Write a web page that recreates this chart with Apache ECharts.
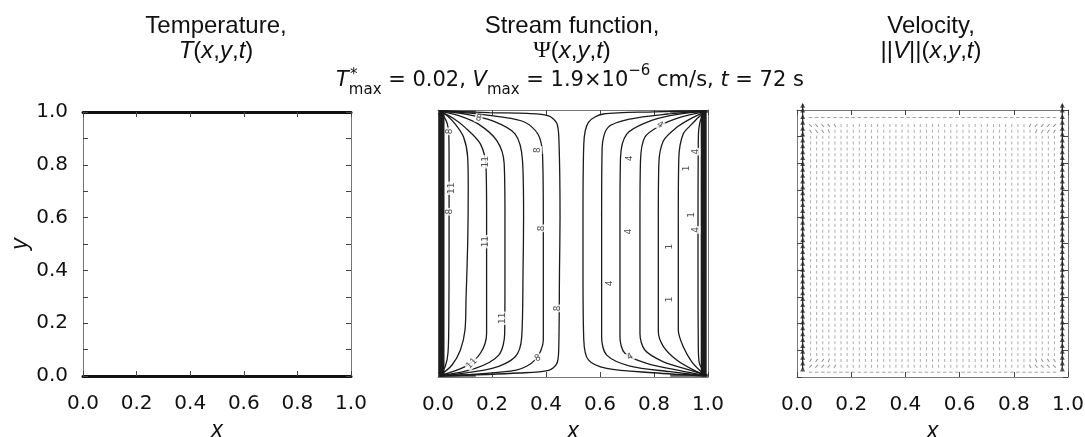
<!DOCTYPE html>
<html><head><meta charset="utf-8">
<script src="https://cdn.jsdelivr.net/npm/echarts@6/dist/echarts.min.js"></script>
<style>html,body{margin:0;padding:0;background:#fff}#c{width:1085px;height:437px}</style>
</head><body><div id="c"></div>
<script>
// ---------- DATA ----------
const tickLabels = [0.0, 0.2, 0.4, 0.6, 0.8, 1.0];

// Stream-function contours, left (clockwise) cell, innermost -> outermost [x, y]
const leftCellContours = [
  [[0.006,0.994],[0.022,0.975],[0.034,0.95],[0.04,0.91],[0.041,0.8],[0.041,0.5],[0.04,0.2],[0.037,0.09],[0.027,0.04],[0.006,0.006]],
  [[0.006,0.995],[0.033,0.979],[0.064,0.947],[0.095,0.898],[0.11,0.822],[0.112,0.7],[0.11,0.5],[0.104,0.3],[0.1,0.176],[0.083,0.101],[0.052,0.045],[0.006,0.005]],
  [[0.006,0.996],[0.052,0.972],[0.1,0.935],[0.157,0.873],[0.178,0.785],[0.18,0.6],[0.18,0.4],[0.18,0.163],[0.157,0.089],[0.1,0.039],[0.006,0.005]],
  [[0.006,0.997],[0.077,0.979],[0.15,0.947],[0.218,0.885],[0.245,0.8],[0.248,0.6],[0.248,0.4],[0.247,0.163],[0.225,0.082],[0.138,0.032],[0.006,0.004]],
  [[0.006,0.997],[0.1,0.985],[0.2,0.96],[0.286,0.91],[0.313,0.81],[0.317,0.6],[0.315,0.4],[0.31,0.15],[0.286,0.076],[0.2,0.032],[0.006,0.004]],
  [[0.006,0.998],[0.12,0.988],[0.225,0.975],[0.32,0.955],[0.37,0.91],[0.387,0.835],[0.39,0.6],[0.39,0.4],[0.39,0.138],[0.36,0.064],[0.29,0.026],[0.006,0.004]],
  [[0.006,0.998],[0.19,0.99],[0.33,0.987],[0.41,0.978],[0.44,0.95],[0.448,0.885],[0.452,0.6],[0.45,0.4],[0.447,0.1],[0.44,0.05],[0.41,0.025],[0.3,0.015],[0.006,0.003]]
];
// right (counter-clockwise) cell, innermost -> outermost
const rightCellContours = [
  [[0.994,0.994],[0.975,0.97],[0.966,0.93],[0.964,0.87],[0.963,0.6],[0.963,0.4],[0.964,0.12],[0.968,0.051],[0.985,0.02],[0.994,0.008]],
  [[0.994,0.995],[0.964,0.972],[0.94,0.947],[0.908,0.91],[0.892,0.822],[0.89,0.6],[0.89,0.4],[0.89,0.176],[0.908,0.114],[0.94,0.057],[0.975,0.02],[0.994,0.007]],
  [[0.994,0.996],[0.933,0.966],[0.884,0.935],[0.835,0.885],[0.818,0.8],[0.816,0.6],[0.816,0.4],[0.816,0.17],[0.835,0.114],[0.884,0.064],[0.951,0.024],[0.994,0.006]],
  [[0.994,0.996],[0.896,0.972],[0.822,0.941],[0.766,0.898],[0.75,0.81],[0.748,0.6],[0.748,0.4],[0.748,0.163],[0.766,0.101],[0.835,0.057],[0.933,0.026],[0.994,0.006]],
  [[0.994,0.997],[0.859,0.979],[0.773,0.954],[0.699,0.91],[0.676,0.822],[0.674,0.6],[0.674,0.4],[0.674,0.15],[0.692,0.089],[0.773,0.051],[0.896,0.024],[0.994,0.005]],
  [[0.994,0.997],[0.85,0.985],[0.711,0.966],[0.63,0.935],[0.608,0.86],[0.606,0.6],[0.606,0.4],[0.606,0.15],[0.625,0.082],[0.711,0.041],[0.859,0.02],[0.994,0.005]],
  [[0.994,0.998],[0.8,0.993],[0.612,0.985],[0.557,0.954],[0.54,0.873],[0.537,0.6],[0.537,0.4],[0.54,0.138],[0.557,0.064],[0.625,0.032],[0.797,0.016],[0.994,0.004]]
];
// dark compressed contours along the side walls
const wallBands = [
  [[0.013,0.0],[0.013,1.0]],
  [[0.984,0.0],[0.984,1.0]]
];
const cornerBands = [
  [[0.0,0.994],[0.14,0.994]], [[0.0,0.006],[0.14,0.006]],
  [[0.86,0.994],[1.0,0.994]], [[0.86,0.006],[1.0,0.006]]
];
// contour labels [x, y, text, rotation]
const psiLabels = [
  [0.15,0.969,'8',-15],[0.045,0.92,'8',90],[0.175,0.806,'11',90],[0.052,0.707,'11',90],
  [0.045,0.619,'8',90],[0.37,0.85,'8',90],[0.385,0.557,'8',90],[0.175,0.507,'11',90],
  [0.445,0.257,'8',90],[0.24,0.22,'11',90],[0.37,0.07,'8',30],[0.125,0.05,'11',45],
  [0.822,0.944,'4',-30],[0.71,0.819,'4',90],[0.955,0.844,'4',90],[0.92,0.781,'1',90],
  [0.94,0.607,'1',90],[0.955,0.551,'4',90],[0.705,0.544,'4',90],[0.857,0.488,'1',90],
  [0.637,0.351,'4',90],[0.857,0.291,'1',90],[0.711,0.076,'4',30]
];

// velocity field sample grid
const velCols = [0.05,0.0725,0.095,0.1175,0.14,0.1625,0.185,0.2075,0.23,0.2525,0.275,0.2975,0.32,0.3425,0.365,0.3875,0.41,0.4325,0.455,0.4775,0.5,0.5225,0.545,0.5675,0.59,0.6125,0.635,0.6575,0.68,0.7025,0.725,0.7475,0.77,0.7925,0.815,0.8375,0.86,0.8825,0.905,0.9275,0.95];
const velRows = [0.04,0.062,0.084,0.106,0.128,0.15,0.172,0.194,0.216,0.238,0.26,0.282,0.304,0.326,0.348,0.37,0.392,0.414,0.436,0.458,0.48,0.502,0.524,0.546,0.568,0.59,0.612,0.634,0.656,0.678,0.7,0.722,0.744,0.766,0.788,0.81,0.832,0.854,0.876,0.898,0.92,0.942];
const velEdgeRows = [0.972, 0.018];
// corner vectors [x, y, rotation deg]
const cornerVectors = [
  [0.05,0.942,45],[0.0725,0.942,45],[0.095,0.942,45],[0.1175,0.942,40],[0.14,0.942,30],
  [0.05,0.92,30],[0.0725,0.92,35],[0.095,0.92,30],[0.1175,0.92,20],
  [0.95,0.942,-45],[0.9275,0.942,-45],[0.905,0.942,-45],[0.8825,0.942,-40],[0.86,0.942,-30],
  [0.95,0.92,-30],[0.9275,0.92,-35],[0.905,0.92,-30],[0.8825,0.92,-20],
  [0.05,0.04,-45],[0.0725,0.04,-45],[0.095,0.04,-45],[0.1175,0.04,-40],[0.14,0.04,-30],
  [0.05,0.062,-30],[0.0725,0.062,-35],[0.095,0.062,-30],[0.1175,0.062,-20],
  [0.95,0.04,45],[0.9275,0.04,45],[0.905,0.04,45],[0.8825,0.04,40],[0.86,0.04,30],
  [0.95,0.062,30],[0.9275,0.062,35],[0.905,0.062,30],[0.8825,0.062,20]
];
const wallJetX = [0.021, 0.979];
const wallJetSpan = [0.03, 1.022];
const wallJetHeads = [0.03,0.052,0.074,0.096,0.118,0.14,0.162,0.184,0.206,0.228,0.25,0.272,0.294,0.316,0.338,0.36,0.382,0.404,0.426,0.448,0.47,0.492,0.514,0.536,0.558,0.58,0.602,0.624,0.646,0.668,0.69,0.712,0.734,0.756,0.778,0.8,0.822,0.844,0.866,0.888,0.91,0.932,0.954,0.976,1.0,1.018];

// ---------- CHART ----------
const FT = '"Liberation Sans", Arial, sans-serif';
const FN = '"DejaVu Sans", sans-serif';
const grids = [
  {left:83, top:112, width:268, height:264, outerBoundsMode:'none', containLabel:false},
  {left:438, top:110, width:270, height:267, outerBoundsMode:'none', containLabel:false},
  {left:797, top:110, width:271, height:267, outerBoundsMode:'none', containLabel:false}
];
function xAx(gi, pos, labels, lw, lc) {
  return {type:'value', gridIndex:gi, position:pos, min:0, max:1, interval:0.2,
    axisLine:{show:true, onZero:false, lineStyle:{color:lc, width:lw}},
    axisTick:{show:true, inside:true, length:5, lineStyle:{color:'#444', width:1}},
    splitLine:{show:false},
    axisLabel:{show:labels, margin:18, fontSize:20, lineHeight:20, fontFamily:FN, color:'#111',
      formatter:v=>v.toFixed(1), showMinLabel:true, showMaxLabel:true},
    name: labels ? 'x' : '', nameLocation:'middle', nameGap:38,
    nameTextStyle:{fontSize:23, fontStyle:'italic', fontFamily:FT, color:'#111', lineHeight:23}};
}
function yAx(gi, pos, labels, ticks, lc, named) {
  return {type:'value', gridIndex:gi, position:pos, min:0, max:1, interval:0.2,
    axisLine:{show:true, onZero:false, lineStyle:{color:lc, width:1}},
    axisTick:{show:ticks, inside:true, length:5, lineStyle:{color:'#444', width:1}},
    minorTick:{show:ticks, splitNumber:2, length:5, lineStyle:{color:'#444', width:1}},
    splitLine:{show:false},
    axisLabel:{show:labels, margin:15, fontSize:20, fontFamily:FN, color:'#111',
      formatter:v=>v.toFixed(1), showMinLabel:true, showMaxLabel:true},
    name: named ? 'y' : '', nameLocation:'middle', nameGap:49, nameRotate:90,
    nameTextStyle:{fontSize:23, fontStyle:'italic', fontFamily:FT, color:'#111', lineHeight:23}};
}
const xAxes = [
  xAx(0,'bottom',true,3,'#111'), xAx(0,'top',false,3,'#111'),
  xAx(1,'bottom',true,1,'#777'), xAx(1,'top',false,1,'#777'),
  xAx(2,'bottom',true,1,'#777'), xAx(2,'top',false,1,'#777')
];
const yAxes = [
  yAx(0,'left',true,true,'#777',true), yAx(0,'right',false,true,'#777',false),
  yAx(1,'left',false,false,'#777',false), yAx(1,'right',false,false,'#777',false),
  yAx(2,'left',false,true,'#777',false), yAx(2,'right',false,true,'#777',false)
];

const series = [];
// middle panel: wall bands
wallBands.forEach(d => series.push({type:'line', xAxisIndex:2, yAxisIndex:2, data:d, showSymbol:false,
  lineStyle:{color:'#1c1c1c', width:6}, silent:true}));
cornerBands.forEach(d => series.push({type:'line', xAxisIndex:2, yAxisIndex:2, data:d, showSymbol:false,
  lineStyle:{color:'#555', width:2.5}, silent:true}));
leftCellContours.concat(rightCellContours).forEach(d => series.push({type:'line', xAxisIndex:2, yAxisIndex:2,
  data:d, showSymbol:false, smooth:0.3, lineStyle:{color:'#1a1a1a', width:1.3}, silent:true}));
series.push({type:'scatter', xAxisIndex:2, yAxisIndex:2, symbolSize:1, itemStyle:{color:'rgba(0,0,0,0)'}, z:5, silent:true,
  data: psiLabels.map(l => ({value:[l[0], l[1]], name:l[2], label:{rotate:l[3]}})),
  label:{show:true, position:'inside', formatter:p=>p.name, fontSize:9, fontFamily:FN, color:'#222',
    backgroundColor:'#fff', padding:[0,1]}});

// right panel: velocity arrows
const cornerKey = new Set(cornerVectors.map(c => c[0] + '_' + c[1]));
const interior = [];
velCols.forEach(x => velRows.forEach(y => { if (!cornerKey.has(x + '_' + y)) interior.push([x, y]); }));
series.push({type:'scatter', xAxisIndex:4, yAxisIndex:4, symbol:'rect', symbolSize:[1,3],
  itemStyle:{color:'#999'}, data:interior, silent:true});
const edgeRow = [];
velCols.forEach(x => velEdgeRows.forEach(y => edgeRow.push([x, y])));
series.push({type:'scatter', xAxisIndex:4, yAxisIndex:4, symbol:'rect', symbolSize:[1,3.5], symbolRotate:90,
  itemStyle:{color:'#8a8a8a'}, data:edgeRow, silent:true});
series.push({type:'scatter', xAxisIndex:4, yAxisIndex:4, symbol:'rect', symbolSize:[1,3.8],
  itemStyle:{color:'#777'}, silent:true,
  data: cornerVectors.map(c => ({value:[c[0], c[1]], symbolRotate:c[2]}))});
wallJetX.forEach(x => {
  series.push({type:'line', xAxisIndex:4, yAxisIndex:4, showSymbol:false, clip:false, silent:true,
    data: wallJetSpan.map(y => [x, y]), lineStyle:{color:'#222', width:1.2}});
  series.push({type:'scatter', xAxisIndex:4, yAxisIndex:4, clip:false, silent:true, symbol:'triangle',
    symbolSize:[5,5], itemStyle:{color:'#2a2a2a'}, data: wallJetHeads.map(y => [x, y])});
});

const titleStyle = {fontSize:24, fontWeight:'normal', fontFamily:FT, color:'#111', lineHeight:24};
const it = {fontSize:24, fontStyle:'italic', fontFamily:FT, color:'#111', lineHeight:24};
const ser = {fontSize:24, fontFamily:'"Liberation Serif", serif', color:'#111', lineHeight:24};
const mainS = {fontSize:21, fontFamily:FN, color:'#111', lineHeight:34, verticalAlign:'middle'};
const title = [
  {text:'Temperature,', left:216, top:14, textAlign:'center', padding:0, textStyle:titleStyle},
  {text:'{i|T}({i|x},{i|y},{i|t})', left:216, top:39, textAlign:'center', padding:0, textStyle:Object.assign({rich:{i:it}}, titleStyle)},
  {text:'Stream function,', left:572, top:14, textAlign:'center', padding:0, textStyle:titleStyle},
  {text:'{s|Ψ}({i|x},{i|y},{i|t})', left:572, top:39, textAlign:'center', padding:0, textStyle:Object.assign({rich:{i:it, s:ser}}, titleStyle)},
  {text:'Velocity,', left:931, top:14, textAlign:'center', padding:0, textStyle:titleStyle},
  {text:'||{i|V}||({i|x},{i|y},{i|t})', left:931, top:39, textAlign:'center', padding:0, textStyle:Object.assign({rich:{i:it}}, titleStyle)},
  {text:'{mi|T}{sub|max}{m| = 0.02, }{mi|V}{sub|max}{m| = 1.9×10}{sup|−6}{m| cm/s, }{mi|t}{m| = 72 s}',
   left:336, top:64, padding:0,
   textStyle:{fontSize:21, fontWeight:'normal', fontFamily:FN, color:'#111', rich:{
     m:mainS, mi:Object.assign({}, mainS, {fontStyle:'italic'}),
     sub:{fontSize:15, fontFamily:FN, color:'#111', lineHeight:15, verticalAlign:'bottom'},
     sup:{fontSize:15, fontFamily:FN, color:'#111', lineHeight:28, verticalAlign:'top'}}}},
  {text:'*', left:350, top:68, padding:0, textStyle:{fontSize:15, fontWeight:'normal', fontFamily:FN, color:'#111'}}
];

const chart = echarts.init(document.getElementById('c'), null, {renderer:'canvas'});
chart.setOption({animation:false, backgroundColor:'#fff', title, grid:grids, xAxis:xAxes, yAxis:yAxes, series});
</script></body></html>
